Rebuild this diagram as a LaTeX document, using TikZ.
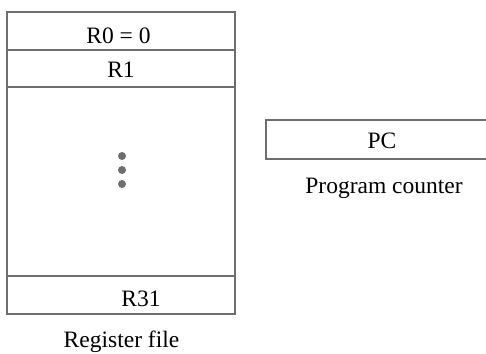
\documentclass[tikz,border=0pt]{standalone}
\usepackage{fontspec}
\setmainfont{Liberation Serif}
\definecolor{boxgray}{HTML}{6E6E6E}
\begin{document}
\begin{tikzpicture}[x=1pt,y=-1pt,
  regbox/.style={draw=boxgray,line width=2.8pt,inner sep=0pt,outer sep=0pt,minimum width=228pt},
  lbl/.style={anchor=base,inner sep=0pt,font=\fontsize{23.5}{28}\selectfont},
  dotmark/.style={circle,fill=boxgray,inner sep=0pt,minimum size=8pt}]
\useasboundingbox (0,0) rectangle (486,353);
% register file boxes
\node[regbox,minimum height=38pt] (r0) at (121,31) {};
\node[regbox,minimum height=37pt] (r1) at (121,68.5) {};
\node[regbox,minimum height=189pt] (mid) at (121,181.5) {};
\node[regbox,minimum height=38pt,line width=2.2pt] (r31) at (121,295) {};
\node[lbl] (t0) at (118.5,43) {R0 = 0};
\node[lbl] (t1) at (121,77) {R1};
\node[lbl] (t31) at (141,306) {R31};
\node[dotmark] (d1) at (122,156) {};
\node[dotmark] (d2) at (122,170) {};
\node[dotmark] (d3) at (122,184) {};
\node[lbl] (rf) at (121.5,347.5) {Register file};
% program counter
\coordinate (pctr) at (486,120);
\coordinate (pcbr) at (486,159);
\draw[draw=boxgray,line width=2.8pt] (pctr) -- (266,120) -- (266,159) -- (pcbr);
\node[lbl] (pc) at (382,148) {PC};
\node[lbl] (pcl) at (384,193) {Program counter};
\end{tikzpicture}
\end{document}
